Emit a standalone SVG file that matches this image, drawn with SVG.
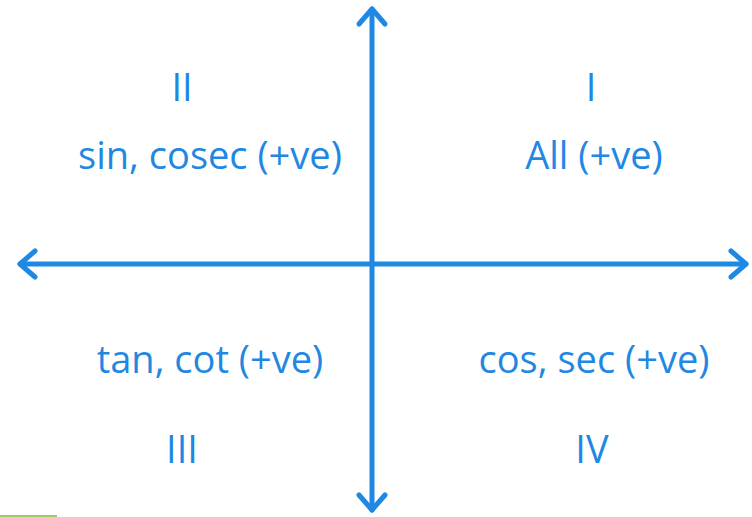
<svg xmlns="http://www.w3.org/2000/svg" width="752" height="517" viewBox="0 0 752 517">
<style>
.ax{stroke:#1f88e3;stroke-width:5;fill:none;stroke-linecap:round;stroke-linejoin:round}
.t{font-family:"Open Sans","Noto Sans",sans-serif;font-size:38px;fill:#1f88e3;text-anchor:middle}
</style>
<rect width="752" height="517" fill="#ffffff"/>
<g id="connectors">
<line class="ax" x1="372" y1="9" x2="372" y2="510"/>
<line class="ax" x1="20" y1="264" x2="746" y2="264"/>
<polyline class="ax" points="359,24 372,9 385,24"/>
<polyline class="ax" points="359,495 372,510 385,495"/>
<polyline class="ax" points="35,251 20,264 35,277"/>
<polyline class="ax" points="731,251 746,264 731,277"/>
</g>
<g id="q1"><text class="t" x="591" y="101">I</text><text class="t" x="594" y="169">All (+ve)</text></g>
<g id="q2"><text class="t" x="182" y="101">II</text><text class="t" x="210" y="169">sin, cosec (+ve)</text></g>
<g id="q3"><text class="t" x="210" y="373">tan, cot (+ve)</text><text class="t" x="182" y="463">III</text></g>
<g id="q4"><text class="t" x="594" y="373">cos, sec (+ve)</text><text class="t" x="592" y="463">IV</text></g>
<rect x="0" y="515" width="57" height="2" fill="#9ccc65"/>
</svg>
